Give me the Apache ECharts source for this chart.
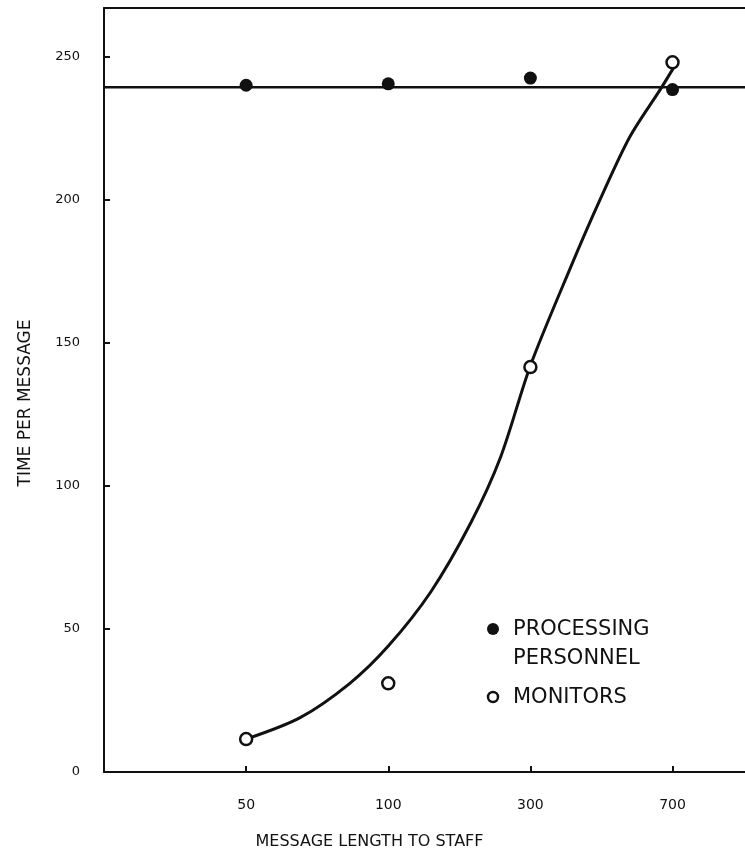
<!DOCTYPE html>
<html>
<head>
<meta charset="utf-8">
<script src="https://cdn.jsdelivr.net/npm/echarts@6/dist/echarts.min.js"></script>
<style>
  html, body { margin: 0; padding: 0; background: #fff; }
  #chart { width: 745px; height: 855px; }
</style>
</head>
<body>
<div id="chart"></div>
<script>
// x categories (evenly spaced positions 1..4)
const lengths = ['50', '100', '300', '700']
const yTicks = [0, 50, 100, 150, 200, 250]

// observed points
const processing = [240, 240.5, 242.5, 238.5]
const monitors = [11.5, 31, 141.5, 248]

// fitted lines
const processingFit = 239.3
const monitorsCurveX = [1.0, 1.38, 1.73, 2.0, 2.3, 2.58, 2.79, 3.0, 3.28, 3.49, 3.7, 3.92, 4.03]
const monitorsCurveY = [11.5, 19, 31, 44, 63, 87, 110, 142, 176, 200, 222, 239, 248]

const legendItems = [
    { lines: ['PROCESSING', 'PERSONNEL'], filled: true },
    { lines: ['MONITORS'], filled: false },
]

const ink = '#111'
const font = 'DejaVu Sans'
const xMax = 4.51

const chart = echarts.init(document.getElementById('chart'))

// hand-placed legend, like the original
const legendGraphic = []
legendItems.forEach((item, i) => {
    const y = i === 0 ? 629 : 697
    legendGraphic.push({
        type: 'circle',
        shape: { cx: 493, cy: y, r: item.filled ? 6 : 5 },
        style: item.filled ? { fill: ink } : { fill: '#fff', stroke: ink, lineWidth: 2.5 },
    })
    legendGraphic.push({
        type: 'text',
        left: 513,
        top: y - 14,
        style: { text: item.lines.join('\n'), fill: ink, font: '21px "DejaVu Sans"', lineHeight: 29 },
    })
})

chart.setOption({
    animation: false,
    grid: { left: 104, top: 8, bottom: 78, right: 0 },
    graphic: legendGraphic,
    xAxis: [
        {
            type: 'value',
            min: 0,
            max: xMax,
            splitLine: { show: false },
            axisLine: { lineStyle: { color: ink, width: 2 } },
            axisTick: { inside: true, length: 6, lineStyle: { color: ink, width: 2 }, customValues: [1, 2, 3, 4] },
            axisLabel: {
                customValues: [1, 2, 3, 4],
                formatter: (v) => lengths[Math.round(v) - 1],
                color: ink, fontFamily: font, fontSize: 14, margin: 26,
            },
            name: 'MESSAGE LENGTH TO STAFF',
            nameLocation: 'middle',
            nameGap: 62,
            nameTextStyle: { color: ink, fontFamily: font, fontSize: 16, padding: [0, 110, 0, 0] },
        },
        {
            type: 'value',
            position: 'top',
            min: 0,
            max: xMax,
            splitLine: { show: false },
            axisLine: { show: true, lineStyle: { color: ink, width: 2 } },
            axisTick: { show: false },
            axisLabel: { show: false },
        },
    ],
    yAxis: {
        type: 'value',
        min: 0,
        max: 267,
        splitLine: { show: false },
        axisLine: { lineStyle: { color: ink, width: 2 } },
        axisTick: { inside: true, length: 6, lineStyle: { color: ink, width: 2 }, customValues: yTicks },
        axisLabel: {
            customValues: yTicks,
            color: ink, fontFamily: font, fontSize: 13, margin: 24,
        },
        name: 'TIME PER MESSAGE',
        nameLocation: 'middle',
        nameGap: 70,
        nameTextStyle: { color: ink, fontFamily: font, fontSize: 17, padding: [0, 26, 0, 0] },
    },
    series: [
        {
            name: 'processingFit',
            type: 'line',
            data: [[0, processingFit], [xMax, processingFit]],
            symbol: 'none',
            lineStyle: { color: ink, width: 2.5 },
            z: 2,
        },
        {
            name: 'monitorsCurve',
            type: 'line',
            smooth: 0.3,
            data: monitorsCurveX.map((x, i) => [x, monitorsCurveY[i]]),
            symbol: 'none',
            lineStyle: { color: ink, width: 3 },
            z: 2,
        },
        {
            name: 'PROCESSING PERSONNEL',
            type: 'scatter',
            data: processing.map((v, i) => [i + 1, v]),
            symbol: 'circle',
            symbolSize: 13,
            itemStyle: { color: ink, opacity: 1 },
            z: 3,
        },
        {
            name: 'MONITORS',
            type: 'scatter',
            data: monitors.map((v, i) => [i + 1, v]),
            symbol: 'circle',
            symbolSize: 12,
            itemStyle: { color: '#fff', borderColor: ink, borderWidth: 2.5, opacity: 1 },
            z: 3,
        },
    ],
})
</script>
</body>
</html>
